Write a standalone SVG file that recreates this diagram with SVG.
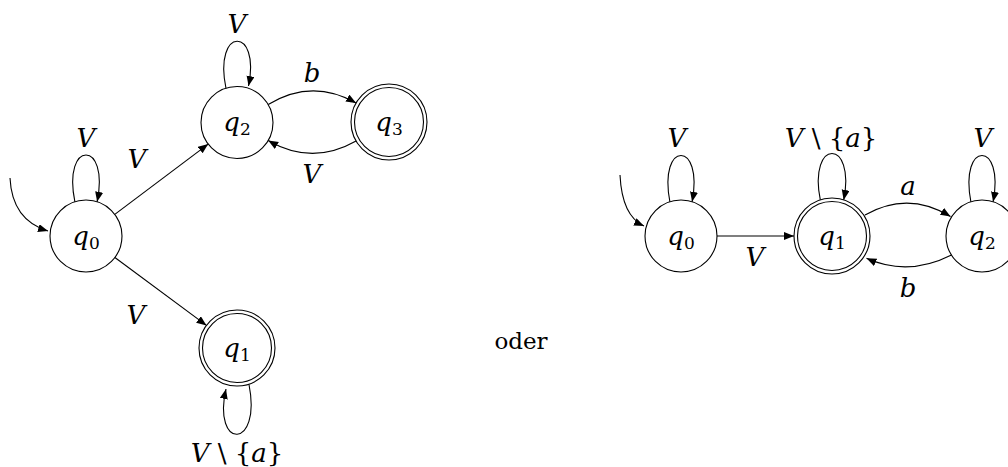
<svg xmlns="http://www.w3.org/2000/svg" width="1008" height="467" viewBox="0 0 1008 467">
<style>
.st{fill:none;stroke:#000;stroke-width:1.1}
.ed{fill:none;stroke:#000;stroke-width:1.1}
text{font-family:'DejaVu Serif',serif;fill:#000}
.m{font-size:26px;font-style:italic}
.u{font-style:normal}
.sub{font-style:normal;font-size:17px}
.t{font-size:23px}
</style>
<defs>
<marker id="ah" markerUnits="userSpaceOnUse" markerWidth="12" markerHeight="10" refX="10" refY="4" orient="auto">
<path d="M0,0 L10,4 L0,8 Z" fill="#000"/>
</marker>
</defs>

<g id="L_q0"><circle class="st" cx="86" cy="236" r="36"/><text class="m" x="86" y="245" text-anchor="middle">q<tspan class="sub" dy="4">0</tspan></text></g>
<g id="L_q2"><circle class="st" cx="237" cy="122.5" r="36"/><text class="m" x="237" y="131" text-anchor="middle">q<tspan class="sub" dy="4">2</tspan></text></g>
<g id="L_q3"><circle class="st" cx="389" cy="122" r="38"/><circle class="st" cx="389" cy="122" r="34.5"/><text class="m" x="389" y="131" text-anchor="middle">q<tspan class="sub" dy="4">3</tspan></text></g>
<g id="L_q1"><circle class="st" cx="237" cy="348" r="38"/><circle class="st" cx="237" cy="348" r="34.5"/><text class="m" x="237" y="357" text-anchor="middle">q<tspan class="sub" dy="4">1</tspan></text></g>

<g id="R_q0"><circle class="st" cx="681" cy="236" r="36"/><text class="m" x="681" y="245" text-anchor="middle">q<tspan class="sub" dy="4">0</tspan></text></g>
<g id="R_q1"><circle class="st" cx="832" cy="236" r="38"/><circle class="st" cx="832" cy="236" r="34.5"/><text class="m" x="832" y="245" text-anchor="middle">q<tspan class="sub" dy="4">1</tspan></text></g>
<g id="R_q2"><circle class="st" cx="982" cy="236" r="36"/><text class="m" x="982" y="245" text-anchor="middle">q<tspan class="sub" dy="4">2</tspan></text></g>

<g id="connectors">
<path class="ed" d="M10,178 Q12,220 48,231" marker-end="url(#ah)"/>
<path class="ed" d="M74.9,201.8 C62,139.4 110,139.4 97.1,201.8" marker-end="url(#ah)"/>
<path class="ed" d="M114.8,214.4 L208.2,144.1" marker-end="url(#ah)"/>
<path class="ed" d="M114.9,257.5 L206.5,325.4" marker-end="url(#ah)"/>
<path class="ed" d="M226,88.3 C213,26 261,26 248.5,86" marker-end="url(#ah)"/>
<path class="ed" d="M268.2,104.5 Q312,78 356.1,103" marker-end="url(#ah)"/>
<path class="ed" d="M356.1,141 Q312,166 268.2,140.5" marker-end="url(#ah)"/>
<path class="ed" d="M249,384.5 C262,450 212,450 226,389" marker-end="url(#ah)"/>
<path class="ed" d="M620,175 Q622,216 644,226" marker-end="url(#ah)"/>
<path class="ed" d="M669.9,201.8 C658,140 704,140 692.1,201.8" marker-end="url(#ah)"/>
<path class="ed" d="M717,236 L794,236" marker-end="url(#ah)"/>
<path class="ed" d="M820.3,199.9 C808,138 856,138 843.7,199.9" marker-end="url(#ah)"/>
<path class="ed" d="M865,215 Q908,190.5 950.5,216.5" marker-end="url(#ah)"/>
<path class="ed" d="M951.5,255 Q908,277 866.5,258.3" marker-end="url(#ah)"/>
<path class="ed" d="M970.9,201.8 C959,140 1005,140 993.1,201.8" marker-end="url(#ah)"/>
</g>

<g id="labels">
<text class="m" x="86" y="147" text-anchor="middle">V</text>
<text class="m" x="137" y="168" text-anchor="middle">V</text>
<text class="m" x="237" y="33" text-anchor="middle">V</text>
<text class="m" x="312" y="82" text-anchor="middle">b</text>
<text class="m" x="312" y="183" text-anchor="middle">V</text>
<text class="m" x="136" y="324" text-anchor="middle">V</text>
<text class="m" x="237" y="462" text-anchor="middle">V <tspan class="u">\ {</tspan>a<tspan class="u">}</tspan></text>
<text class="t" x="521" y="349" text-anchor="middle">oder</text>
<text class="m" x="677" y="147" text-anchor="middle">V</text>
<text class="m" x="831" y="147" text-anchor="middle">V <tspan class="u">\ {</tspan>a<tspan class="u">}</tspan></text>
<text class="m" x="983" y="147" text-anchor="middle">V</text>
<text class="m" x="908" y="195" text-anchor="middle">a</text>
<text class="m" x="908" y="297" text-anchor="middle">b</text>
<text class="m" x="755" y="266" text-anchor="middle">V</text>
</g>
</svg>
